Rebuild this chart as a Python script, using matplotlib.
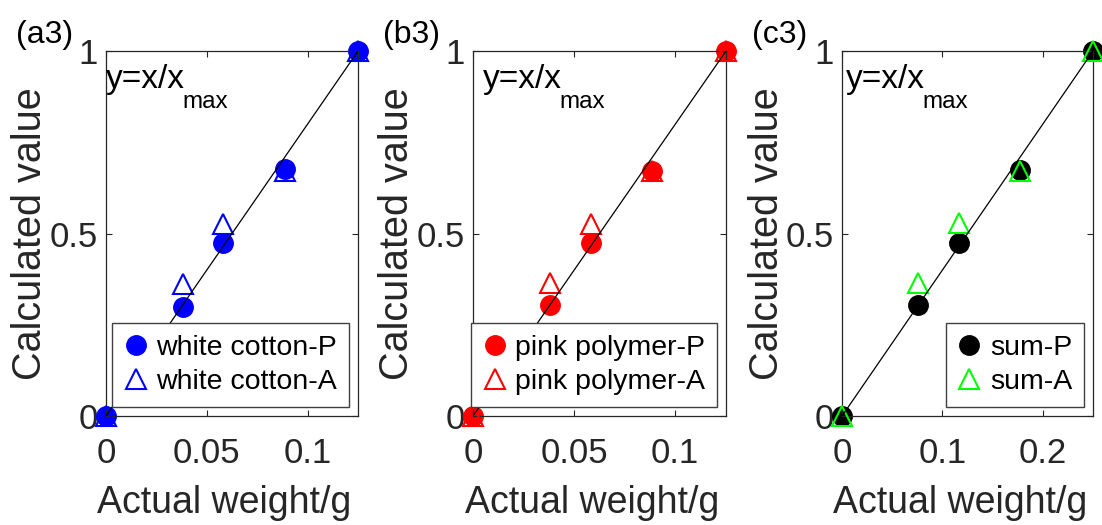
import matplotlib
matplotlib.use("Agg")
import matplotlib.pyplot as plt
import numpy as np

plt.rcParams['font.family'] = ['Liberation Sans', 'DejaVu Sans']

# pesos reales (g) y valores calculados, series P (circulos) y A (triangulos)
x_a = [0, 0.0382, 0.0582, 0.0888, 0.1250]
p_a = [0, 0.300, 0.474, 0.678, 1.0]
a_a = [0, 0.362, 0.526, 0.670, 1.0]

x_b = [0, 0.0380, 0.0585, 0.0886, 0.1252]
p_b = [0, 0.304, 0.474, 0.672, 1.0]
a_b = [0, 0.364, 0.527, 0.670, 1.0]

x_c = [0, 0.0762, 0.1167, 0.1775, 0.2502]
p_c = [0, 0.304, 0.474, 0.674, 1.0]
a_c = [0, 0.364, 0.528, 0.672, 1.0]

etiquetas = ['(a3)', '(b3)', '(c3)']
leyendas = [['white cotton-P', 'white cotton-A'],
            ['pink polymer-P', 'pink polymer-A'],
            ['sum-P', 'sum-A']]
colores_p = ['#0000ff', '#ff0000', '#000000']
colores_a = ['#0000ff', '#ff0000', '#00ff00']
xticks = [[0, 0.05, 0.1], [0, 0.05, 0.1], [0, 0.1, 0.2]]
xticklabels = [['0', '0.05', '0.1'], ['0', '0.05', '0.1'], ['0', '0.1', '0.2']]

datos = [(x_a, p_a, a_a), (x_b, p_b, a_b), (x_c, p_c, a_c)]

fig = plt.figure(figsize=(11.02, 5.25), dpi=100)
lefts = [0.0962, 0.4292, 0.7641]
widths = [0.2287, 0.2296, 0.2278]
texto_x = [0.0, 0.04, 0.016]
gris = '#262626'

for i in range(3):
    ax = fig.add_axes([lefts[i], 0.2076, widths[i], 0.6952])
    x, p, a = datos[i]
    x = np.array(x)
    xmax = x.max()

    ax.plot(x, p, 'o', color=colores_p[i], ms=14, mec=colores_p[i],
            clip_on=False, zorder=2, label=leyendas[i][0])
    ax.plot(x, a, '^', color=colores_a[i], ms=15, mfc='none', mew=1.5,
            clip_on=False, zorder=3, label=leyendas[i][1])
    # recta y = x / xmax
    xl = np.array([0, xmax])
    ax.plot(xl, xl / xmax, '-', color='k', lw=0.9, zorder=4)

    ax.set_xlim(0, xmax)
    ax.set_ylim(0, 1)
    ax.set_xticks(xticks[i])
    ax.set_xticklabels(xticklabels[i])
    ax.set_yticks([0, 0.5, 1])
    ax.set_yticklabels(['0', '0.5', '1'])
    ax.tick_params(direction='in', length=4, width=0.8, top=True, right=True,
                   labelsize=25, colors=gris)
    ax.tick_params(axis='x', pad=15)
    ax.tick_params(axis='y', pad=6)
    for s in ax.spines.values():
        s.set_linewidth(0.9)
        s.set_color(gris)

    ax.set_xlabel('Actual weight/g', fontsize=27, color=gris)
    ax.set_ylabel('Calculated value', fontsize=28.5, color=gris)
    ax.xaxis.set_label_coords(0.47, -0.19)
    ax.yaxis.set_label_coords(-0.225, 0.5)

    ley = ax.legend(loc='lower right', fontsize=20.5, frameon=True, fancybox=False,
                    borderaxespad=0.33, borderpad=0.4, labelspacing=0.3,
                    handlelength=0.85, handletextpad=0.3, framealpha=1)
    ley.get_frame().set_edgecolor('#404040')
    ley.get_frame().set_linewidth(1.0)

    t = ax.text(texto_x[i], 0.90, 'y=x/x', fontsize=24, va='baseline', ha='left',
                transform=ax.transAxes)
    fig.canvas.draw()
    bb = t.get_window_extent()
    inv = ax.transAxes.inverted()
    xs, _ = inv.transform((bb.x1 - 3, bb.y0))
    ax.text(xs, 0.89, 'max', fontsize=17.5, va='top', ha='left',
            transform=ax.transAxes)

    fig.text(lefts[i] - 0.082, 0.933, etiquetas[i], fontsize=23, va='center', ha='left')

fig.savefig('out.png', dpi=100)
